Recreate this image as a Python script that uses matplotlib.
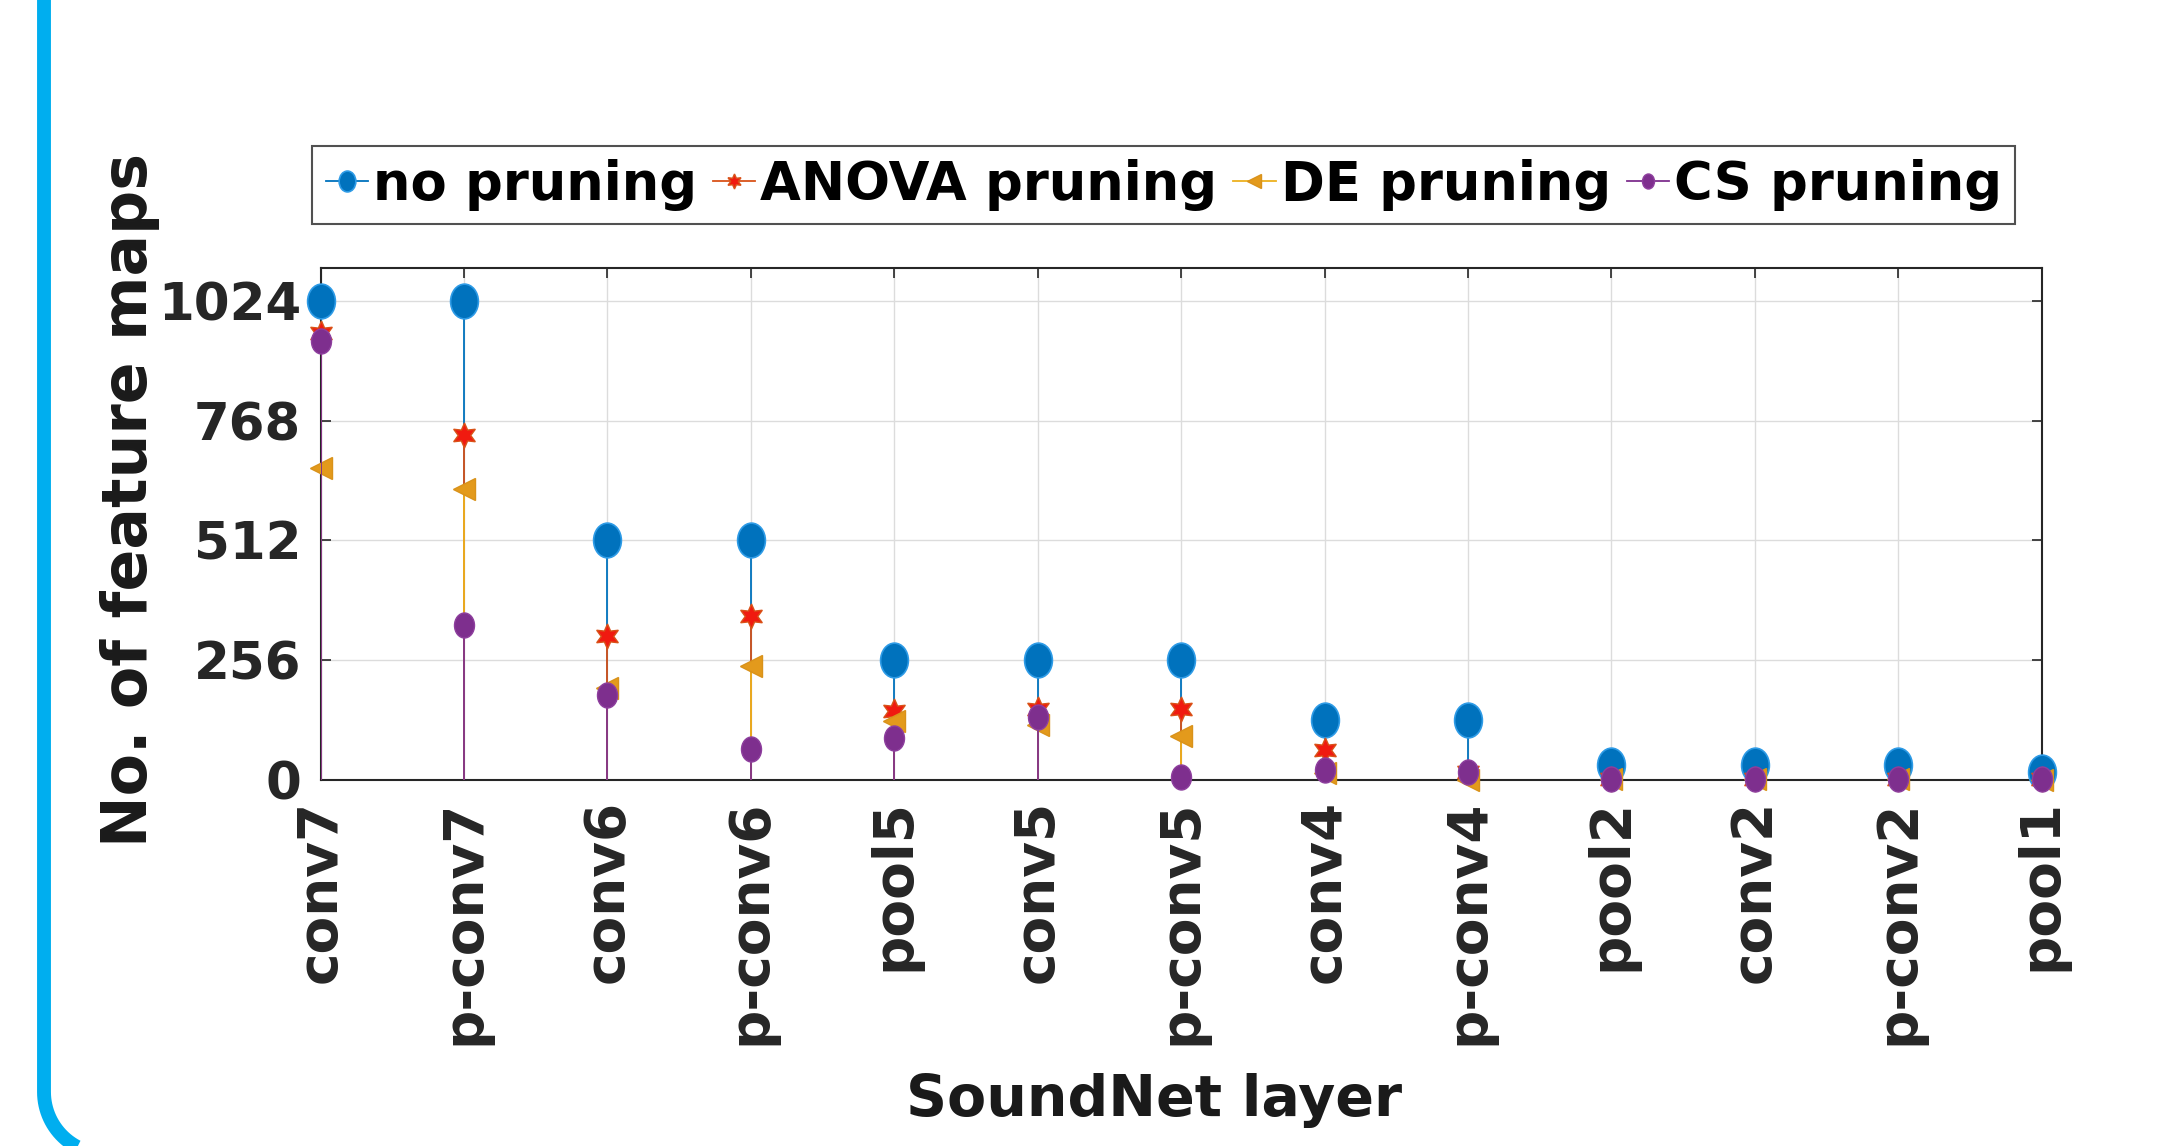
import numpy as np
import matplotlib
matplotlib.use("Agg")
import matplotlib.pyplot as plt
from matplotlib.path import Path
from matplotlib.patches import PathPatch
from matplotlib.lines import Line2D
from matplotlib.transforms import IdentityTransform

# data
layers = ['conv7', 'p-conv7', 'conv6', 'p-conv6', 'pool5', 'conv5', 'p-conv5',
          'conv4', 'p-conv4', 'pool2', 'conv2', 'p-conv2', 'pool1']
no_pruning = [1024, 1024, 512, 512, 256, 256, 256, 128, 128, 32, 32, 32, 16]
anova_pruning = [954, 736, 308, 350, 147, 151, 151, 65, 18, 3, 2, 1, 1]
de_pruning = [667, 621, 197, 243, 125, 118, 93, 15, 0, 1, 1, 1, 0]
cs_pruning = [937, 331, 182, 67, 90, 134, 7, 22, 18, 2, 1, 1, 1]
yticks = [0, 256, 512, 768, 1024]

W, H, DPI = 2157, 1146, 100
fig = plt.figure(figsize=(W / DPI, H / DPI), dpi=DPI)
ax = fig.add_axes([0.1486, 0.3194, 0.798, 0.4468])

x = np.arange(1, len(layers) + 1)

# vertically stretched circle, like the reference markers
circ = Path.unit_circle()
oval = Path(circ.vertices * np.array([0.8, 1.0]), circ.codes)

series = [
    ('no pruning', no_pruning, '#0072BD', dict(marker=oval, ms=25, mfc='#0072BD', mec='#2E9BE6', mew=1.2)),
    ('ANOVA pruning', anova_pruning, '#D95319', dict(marker=(6, 1, 0), ms=18, mfc='#F01A10', mec='#D95319', mew=1.0)),
    ('DE pruning', de_pruning, '#EDB120', dict(marker='<', ms=16, mfc='#E39A1C', mec='#D9921A', mew=1.0)),
    ('CS pruning', cs_pruning, '#7E2F8E', dict(marker=oval, ms=18, mfc='#7E2F8E', mec='#8E3F9E', mew=1.0)),
]

handles = []
for i, (name, vals, col, mk) in enumerate(series):
    ax.vlines(x, 0, vals, colors=col, lw=1.3, zorder=3 + i)
    ax.plot(x, vals, ls='none', zorder=3 + i, clip_on=False, **mk)
    # legend handle: short line plus smaller marker
    hk = dict(mk)
    hk['ms'] = mk['ms'] * 0.6
    handles.append(Line2D([], [], color=col, lw=1.3, label=name, **hk))

ax.set_xlim(1, 13)
ax.set_ylim(0, 1094)
ax.set_xticks(x)
ax.set_xticklabels(layers, rotation=90, fontsize=39.5, fontweight='bold', color='#262626')
ax.set_yticks(yticks)
ax.set_yticklabels([str(v) for v in yticks], fontsize=37, fontweight='bold', color='#262626')
ax.tick_params(direction='in', length=7, width=1.2, top=True, right=True,
               color='#262626', pad=14)
ax.grid(True, color='#DCDCDC', lw=1.0, zorder=0)
ax.set_axisbelow(True)
for s in ax.spines.values():
    s.set_color('#262626')
    s.set_linewidth(1.5)

ax.set_ylabel('No. of feature maps', fontsize=44.5, fontweight='bold', color='#1a1a1a')
ax.yaxis.set_label_coords(-0.093, 0.546)
ax.set_xlabel('SoundNet layer', fontsize=41, fontweight='bold', color='#1a1a1a')
ax.xaxis.set_label_coords(0.484, -0.572)

leg = ax.legend(handles=handles, loc='lower center', bbox_to_anchor=(0.49, 1.086), ncol=4,
                prop={'size': 38, 'weight': 'bold'}, handlelength=0.8,
                handletextpad=0.1, columnspacing=0.3, borderpad=0.25,
                borderaxespad=0, fancybox=False, numpoints=1)
leg.get_frame().set_edgecolor('#262626')
leg.get_frame().set_linewidth(1.5)

# blue rounded frame edge on the left of the picture
xl, y0, r = 44, -8, 62
ang = np.linspace(np.pi, 1.5 * np.pi, 30)
arc = np.column_stack([xl + r + r * np.cos(ang), y0 + r + r * np.sin(ang)])
verts = np.vstack([[xl, H + 20], [xl, y0 + r], arc, [W + 50, y0]])
frame = PathPatch(Path(verts), fill=False, edgecolor='#00AEEF', lw=10,
                  transform=IdentityTransform(), capstyle='butt')
fig.add_artist(frame)

fig.savefig('out.png', dpi=DPI)
